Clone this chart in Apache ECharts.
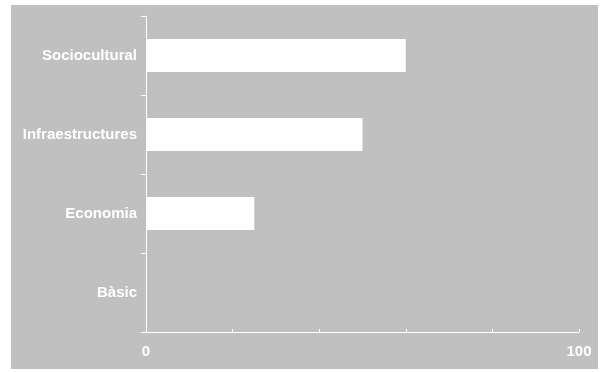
<!DOCTYPE html>
<html><head><meta charset="utf-8">
<script src="https://cdn.jsdelivr.net/npm/echarts@6/dist/echarts.min.js"></script>
<style>html,body{margin:0;padding:0;background:#fff}#c{width:600px;height:372px}</style>
</head><body><div id="c"></div>
<script>
const categories = ['Bàsic', 'Economia', 'Infraestructures', 'Sociocultural'];
const values = [0, 25, 50, 60];
const xTickLabels = ['0', '100'];

const chart = echarts.init(document.getElementById('c'), null, {renderer: 'canvas'});
chart.setOption({
  backgroundColor: '#ffffff',
  animation: false,
  graphic: [{
    type: 'rect', z: -10, silent: true,
    shape: {x: 11, y: 5, width: 587, height: 364},
    style: {fill: '#c0c0c0'}
  }],
  grid: {left: 146, right: 21, top: 16, bottom: 40, containLabel: false},
  xAxis: {
    type: 'value', min: 0, max: 100, interval: 20,
    axisLine: {show: true, lineStyle: {color: '#ffffff', width: 1}},
    axisTick: {show: true, inside: true, length: 3, lineStyle: {color: '#ffffff'}},
    splitLine: {show: false},
    axisLabel: {
      color: '#ffffff', fontFamily: 'Liberation Sans, Arial, sans-serif', fontWeight: 'bold', fontSize: 15,
      margin: 12, showMinLabel: true, showMaxLabel: true,
      formatter: function (v) { return xTickLabels.indexOf(String(v)) >= 0 ? String(v) : ''; }
    }
  },
  yAxis: {
    type: 'category', data: categories,
    axisLine: {show: true, lineStyle: {color: '#ffffff', width: 1}},
    axisTick: {show: true, inside: false, length: 5, lineStyle: {color: '#ffffff'}},
    axisLabel: {
      color: '#ffffff', fontFamily: 'Liberation Sans, Arial, sans-serif', fontWeight: 'bold', fontSize: 15,
      margin: 9
    },
    splitLine: {show: false}
  },
  series: [{
    type: 'bar', data: values, barWidth: '42%',
    itemStyle: {color: '#ffffff'}
  }]
});
</script></body></html>
